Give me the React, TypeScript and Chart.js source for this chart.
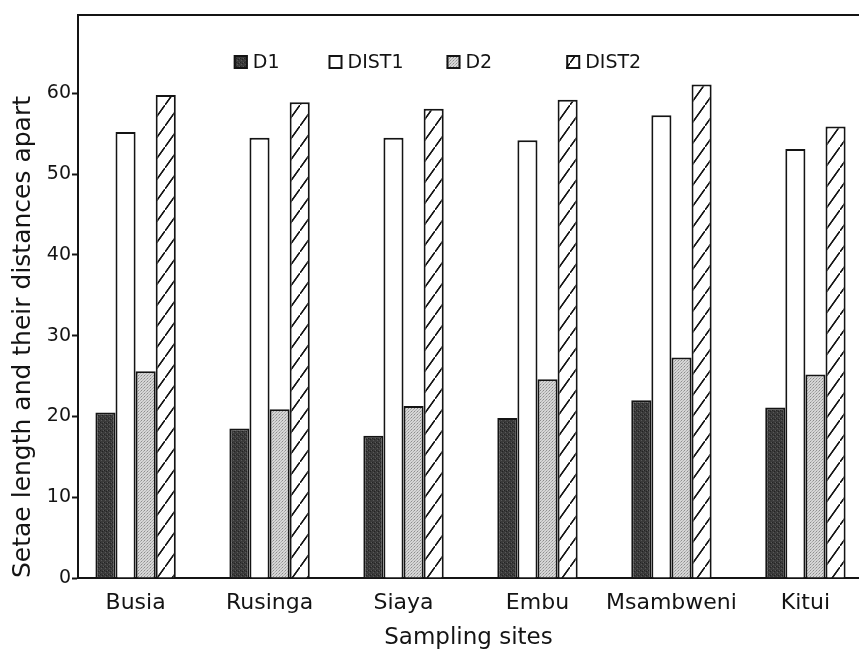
import React, { useEffect, useRef } from 'react';
import { Chart, registerables } from 'chart.js';

Chart.register(...registerables);

// ---- data ----
const sites = ['Busia', 'Rusinga', 'Siaya', 'Embu', 'Msambweni', 'Kitui'];
const d1 = [20.5, 18.5, 17.6, 19.8, 22.0, 21.1];
const dist1 = [55.2, 54.5, 54.5, 54.2, 57.3, 53.1];
const d2 = [25.6, 20.9, 21.3, 24.6, 27.3, 25.2];
const dist2 = [59.8, 58.9, 58.1, 59.2, 61.1, 55.9];
const seriesLabels = ['D1', 'DIST1', 'D2', 'DIST2'];
const yTickValues = [0, 10, 20, 30, 40, 50, 60];
const xTitle = 'Sampling sites';
const yTitle = 'Setae length and their distances apart';

const FONT = "'DejaVu Sans', 'Liberation Sans', sans-serif";
const INK = '#141414';

function makePattern(w: number, h: number, draw: (g: CanvasRenderingContext2D) => void) {
  const c = document.createElement('canvas');
  c.width = w;
  c.height = h;
  const g = c.getContext('2d') as CanvasRenderingContext2D;
  draw(g);
  return g.createPattern(c, 'repeat') as CanvasPattern;
}

function buildFills() {
  const dark = makePattern(4, 4, (g) => {
    g.fillStyle = '#3a3a3a';
    g.fillRect(0, 0, 4, 4);
    g.fillStyle = '#595959';
    g.fillRect(1, 0, 1, 1);
    g.fillRect(3, 2, 1, 1);
    g.fillStyle = '#232323';
    g.fillRect(0, 2, 1, 1);
    g.fillRect(2, 3, 1, 1);
  });
  const white = '#ffffff';
  const dotted = makePattern(3, 3, (g) => {
    g.fillStyle = '#d6d6d6';
    g.fillRect(0, 0, 3, 3);
    g.fillStyle = '#8c8c8c';
    g.fillRect(0, 0, 1, 1);
    g.fillStyle = '#a9a9a9';
    g.fillRect(2, 1, 1, 1);
    g.fillStyle = '#b4b4b4';
    g.fillRect(1, 2, 1, 1);
  });
  const hatch = makePattern(15, 21, (g) => {
    g.fillStyle = '#ffffff';
    g.fillRect(0, 0, 15, 21);
    g.strokeStyle = INK;
    g.lineWidth = 1.2;
    for (let k = -1; k <= 1; k++) {
      g.beginPath();
      g.moveTo(-15 + k * 15, 42 - k * 21);
      g.lineTo(30 + k * 15, -21 - k * 21);
      g.stroke();
    }
  });
  return [dark, white, dotted, hatch];
}

const framePlugin = {
  id: 'topFrame',
  afterDraw(chart: any) {
    const { ctx, chartArea } = chart;
    ctx.save();
    ctx.strokeStyle = INK;
    ctx.lineWidth = 2;
    ctx.beginPath();
    ctx.moveTo(chartArea.left, chartArea.top);
    ctx.lineTo(chartArea.right, chartArea.top);
    ctx.stroke();
    ctx.restore();
  },
};

const legendGaps = [49, 43, 74];

const innerLegendPlugin = {
  id: 'innerLegend',
  afterDraw(chart: any) {
    const { ctx, chartArea } = chart;
    const datasets = chart.data.datasets;
    const box = 14;
    const textGap = 5;
    ctx.save();
    ctx.font = `19px ${FONT}`;
    ctx.textBaseline = 'middle';
    ctx.textAlign = 'left';
    const widths = datasets.map((ds: any) => box + textGap + ctx.measureText(ds.label).width);
    const total =
      widths.reduce((a: number, b: number) => a + b, 0) +
      legendGaps.reduce((a: number, b: number) => a + b, 0);
    const centre = chartArea.left + (chartArea.right - chartArea.left) * 0.4603;
    let x = centre - total / 2;
    const cy = chartArea.top + 47;
    datasets.forEach((ds: any, i: number) => {
      ctx.fillStyle = ds.backgroundColor;
      ctx.fillRect(x, cy - box / 2, box, box);
      ctx.strokeStyle = INK;
      ctx.lineWidth = 2;
      ctx.strokeRect(x + 1, cy - box / 2 + 1, box - 2, box - 2);
      ctx.fillStyle = INK;
      ctx.fillText(ds.label, x + box + textGap, cy + 1);
      x += widths[i] + (legendGaps[i] ?? 0);
    });
    ctx.restore();
  },
};

export default function App() {
  const canvasRef = useRef<HTMLCanvasElement | null>(null);

  useEffect(() => {
    document.body.style.margin = '0';
    const canvas = canvasRef.current;
    if (!canvas) return;
    const fills = buildFills();
    const series = [d1, dist1, d2, dist2];
    const chart = new Chart(canvas, {
      type: 'bar',
      data: {
        datasets: series.map((vals, k) => ({
          label: seriesLabels[k],
          data: sites.map((_, i) => ({ x: i, y: vals[i] })),
          backgroundColor: fills[k] as any,
          borderColor: INK,
          borderWidth: 2,
          borderSkipped: 'bottom' as const,
          categoryPercentage: 0.6,
          barPercentage: 1.0,
        })),
      },
      options: {
        responsive: false,
        animation: false,
        devicePixelRatio: 1,
        events: [],
        layout: { padding: { left: 8, top: 15, right: 0, bottom: 0 } },
        plugins: {
          legend: { display: false },
          tooltip: { enabled: false },
          title: { display: false },
        },
        scales: {
          x: {
            type: 'linear',
            offset: false,
            min: -0.43,
            max: 5.4,
            afterBuildTicks: (s: any) => {
              s.ticks = sites.map((_, i) => ({ value: i }));
            },
            afterFit: (s: any) => {
              s.height = 79;
            },
            ticks: {
              callback: (v: any) => sites[v as number] ?? '',
              font: { family: FONT, size: 22 },
              color: INK,
              padding: 4,
              maxRotation: 0,
              autoSkip: false,
            },
            grid: { display: false, offset: false },
            border: { display: true, color: INK, width: 2 },
            title: {
              display: true,
              text: xTitle,
              font: { family: FONT, size: 23 },
              color: INK,
              padding: { top: 0, bottom: 5 },
            },
          },
          y: {
            type: 'linear',
            min: 0,
            max: 69.7,
            afterBuildTicks: (s: any) => {
              s.ticks = yTickValues.map((v) => ({ value: v }));
            },
            afterFit: (s: any) => {
              s.width = 70;
            },
            ticks: {
              font: { family: FONT, size: 19 },
              color: INK,
              padding: 1,
            },
            grid: {
              display: true,
              drawOnChartArea: false,
              drawTicks: true,
              tickLength: 6,
              tickWidth: 2,
              tickColor: INK,
            },
            border: { display: true, color: INK, width: 2 },
            title: {
              display: true,
              text: yTitle,
              align: 'start',
              font: { family: FONT, size: 25 },
              color: INK,
              padding: { top: 0, bottom: 0 },
            },
          },
        },
      },
      plugins: [framePlugin, innerLegendPlugin],
    });
    return () => chart.destroy();
  }, []);

  return (
    <div style={{ width: 859, height: 657, overflow: 'hidden', background: '#fff' }}>
      <canvas ref={canvasRef} width={859} height={657} style={{ display: 'block' }} />
    </div>
  );
}
